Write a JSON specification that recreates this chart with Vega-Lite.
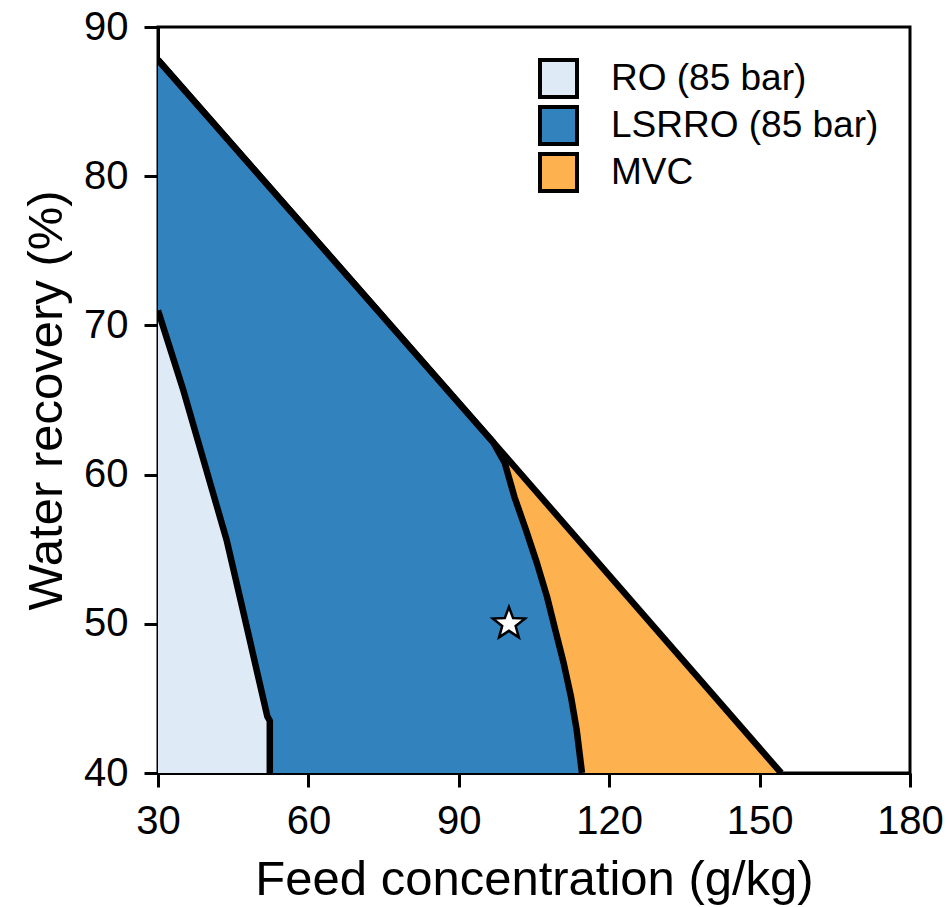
{
  "$schema": "https://vega.github.io/schema/vega-lite/v6.json",
  "width": 752,
  "height": 746,
  "autosize": {"type": "none"},
  "padding": {"left": 158, "top": 27, "right": 39, "bottom": 134},
  "background": "white",
  "datasets": {
    "regions": [
      {"region": "MVC", "i": 1, "x": 154.3, "y": 40},
      {"region": "MVC", "i": 2, "x": 96.8, "y": 62.2},
      {"region": "MVC", "i": 3, "x": 30, "y": 87.8},
      {"region": "LSRRO (85 bar)", "i": 1, "x": 114.57, "y": 40},
      {"region": "LSRRO (85 bar)", "i": 2, "x": 113.52, "y": 42.88},
      {"region": "LSRRO (85 bar)", "i": 3, "x": 112.38, "y": 45.11},
      {"region": "LSRRO (85 bar)", "i": 4, "x": 110.93, "y": 47.35},
      {"region": "LSRRO (85 bar)", "i": 5, "x": 109.25, "y": 49.58},
      {"region": "LSRRO (85 bar)", "i": 6, "x": 107.59, "y": 51.82},
      {"region": "LSRRO (85 bar)", "i": 7, "x": 105.6, "y": 54.05},
      {"region": "LSRRO (85 bar)", "i": 8, "x": 103.4, "y": 56.29},
      {"region": "LSRRO (85 bar)", "i": 9, "x": 101.1, "y": 58.5},
      {"region": "LSRRO (85 bar)", "i": 10, "x": 99.2, "y": 60.76},
      {"region": "LSRRO (85 bar)", "i": 11, "x": 96.8, "y": 62.2},
      {"region": "LSRRO (85 bar)", "i": 12, "x": 30, "y": 87.8},
      {"region": "RO (85 bar)", "i": 1, "x": 52.3, "y": 40},
      {"region": "RO (85 bar)", "i": 2, "x": 52.3, "y": 43.5},
      {"region": "RO (85 bar)", "i": 3, "x": 51.8, "y": 43.8},
      {"region": "RO (85 bar)", "i": 4, "x": 47.7, "y": 49.8},
      {"region": "RO (85 bar)", "i": 5, "x": 43.7, "y": 55.6},
      {"region": "RO (85 bar)", "i": 6, "x": 35.1, "y": 65.6},
      {"region": "RO (85 bar)", "i": 7, "x": 30, "y": 71}
    ],
    "star": [
      {"x": 100, "y": 50}
    ]
  },
  "layer": [
    {
      "data": {"name": "regions"},
      "transform": [{"filter": "datum.region === 'MVC'"}],
      "mark": {"type": "area", "orient": "horizontal"},
      "encoding": {
        "y": {"field": "y", "type": "quantitative", "scale": {"domain": [40, 90], "nice": false}, "axis": {"title": "Water recovery (%)", "values": [40, 50, 60, 70, 80, 90], "labelPadding": 16, "titlePadding": 12, "labelFlush": false}},
        "x": {"field": "x", "type": "quantitative", "stack": null, "scale": {"domain": [30, 180], "nice": false}, "axis": {"title": "Feed concentration (g/kg)", "values": [30, 60, 90, 120, 150, 180], "labelPadding": 14, "titlePadding": 14, "labelFlush": false}},
        "x2": {"datum": 30},
        "fill": {"field": "region", "type": "nominal", "scale": {"domain": ["RO (85 bar)", "LSRRO (85 bar)", "MVC"], "range": ["#deebf7", "#3182bd", "#fdb14f"]}, "legend": {"title": null}}
      }
    },
    {
      "data": {"name": "regions"},
      "transform": [{"filter": "datum.region === 'LSRRO (85 bar)'"}],
      "mark": {"type": "area", "orient": "horizontal"},
      "encoding": {
        "y": {"field": "y", "type": "quantitative"},
        "x": {"field": "x", "type": "quantitative", "stack": null},
        "x2": {"datum": 30},
        "fill": {"field": "region", "type": "nominal"}
      }
    },
    {
      "data": {"name": "regions"},
      "transform": [{"filter": "datum.region === 'RO (85 bar)'"}],
      "mark": {"type": "area", "orient": "horizontal"},
      "encoding": {
        "y": {"field": "y", "type": "quantitative"},
        "x": {"field": "x", "type": "quantitative", "stack": null},
        "x2": {"datum": 30},
        "fill": {"field": "region", "type": "nominal"}
      }
    },
    {
      "data": {"name": "regions"},
      "mark": {"type": "line", "color": "black", "strokeWidth": 6.5, "clip": true, "strokeJoin": "round"},
      "encoding": {
        "x": {"field": "x", "type": "quantitative"},
        "y": {"field": "y", "type": "quantitative"},
        "detail": {"field": "region", "type": "nominal"},
        "order": {"field": "i", "type": "quantitative"}
      }
    },
    {
      "data": {"name": "star"},
      "mark": {"type": "point", "filled": true, "fill": "white", "stroke": "black", "strokeWidth": 2.5, "opacity": 1, "size": 1130, "shape": "M0,-1L0.247,-0.34L0.951,-0.309L0.4,0.13L0.588,0.809L0,0.42L-0.588,0.809L-0.4,0.13L-0.951,-0.309L-0.247,-0.34Z"},
      "encoding": {
        "x": {"field": "x", "type": "quantitative"},
        "y": {"field": "y", "type": "quantitative"}
      }
    }
  ],
  "config": {
    "view": {"stroke": "black", "strokeWidth": 3},
    "axis": {
      "grid": false,
      "domainColor": "black",
      "domainWidth": 3,
      "tickColor": "black",
      "tickWidth": 3,
      "tickSize": 14,
      "labelFont": "Liberation Sans",
      "labelFontSize": 40,
      "labelColor": "black",
      "titleFont": "Liberation Sans",
      "titleFontSize": 49,
      "titleFontWeight": "normal",
      "titleColor": "black"
    },
    "legend": {
      "orient": "top-right",
      "offset": 31,
      "padding": 0,
      "rowPadding": -7,
      "labelOffset": 32,
      "symbolType": "square",
      "symbolSize": 1369,
      "symbolStrokeWidth": 4,
      "symbolStrokeColor": "black",
      "symbolOpacity": 1,
      "labelFont": "Liberation Sans",
      "labelFontSize": 37,
      "labelColor": "black",
      "labelLimit": 400
    }
  }
}
